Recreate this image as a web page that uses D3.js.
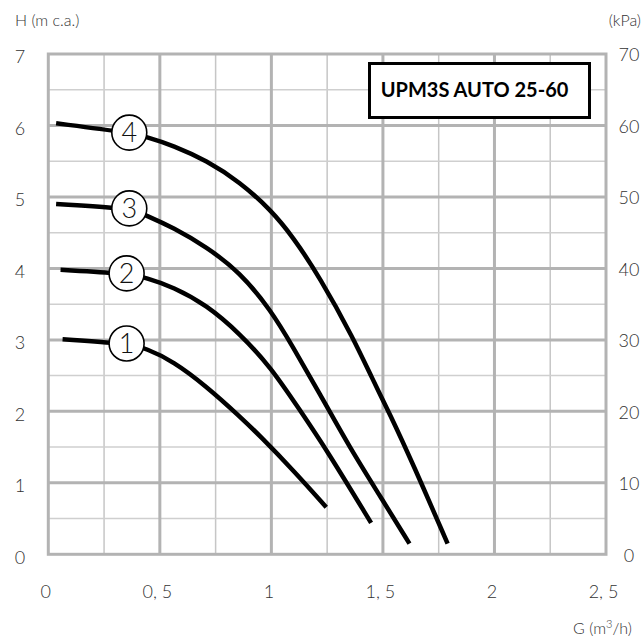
<!DOCTYPE html>
<html>
<head>
<meta charset="utf-8">
<script src="https://cdn.jsdelivr.net/npm/d3@7/dist/d3.min.js"></script>
<style>
  body { margin: 0; background: #fff; }
  svg { display: block; }
  text { font-family: Lato, "Open Sans", sans-serif; }
</style>
</head>
<body>
<svg id="chart" width="642" height="639"></svg>
<script>
// ---- data ----
const curveNames = ["1", "2", "3", "4"];
const flow1 = [0.064, 0.351, 0.44, 0.56, 0.709, 0.858, 0.948, 1.097, 1.246];
const head1 = [3.01, 2.95, 2.88, 2.70, 2.35, 1.93, 1.66, 1.18, 0.66];
const flow2 = [0.055, 0.351, 0.44, 0.56, 0.709, 0.858, 0.997, 1.127, 1.246, 1.447];
const head2 = [3.98, 3.93, 3.87, 3.74, 3.49, 3.09, 2.62, 2.02, 1.47, 0.44];
const flow3 = [0.035, 0.363, 0.44, 0.56, 0.709, 0.858, 0.997, 1.097, 1.216, 1.35, 1.48, 1.619];
const head3 = [4.90, 4.84, 4.74, 4.57, 4.30, 3.95, 3.42, 2.90, 2.25, 1.50, 0.85, 0.15];
const flow4 = [0.035, 0.363, 0.44, 0.56, 0.709, 0.858, 0.997, 1.097, 1.216, 1.365, 1.455, 1.53, 1.634, 1.79];
const head4 = [6.03, 5.90, 5.84, 5.72, 5.51, 5.21, 4.82, 4.44, 3.88, 3.04, 2.44, 1.97, 1.27, 0.15];
const labelFlow = [0.351, 0.351, 0.363, 0.363];
const labelHead = [2.95, 3.93, 4.84, 5.90];
const xTickValues = [0, 0.5, 1, 1.5, 2, 2.5];
const xTickLabels = ["0", "0, 5", "1", "1, 5", "2", "2, 5"];
const yTickValues = [0, 1, 2, 3, 4, 5, 6, 7];
const yTickLabels = ["0", "1", "2", "3", "4", "5", "6", "7"];
const kpaTickLabels = ["0", "10", "20", "30", "40", "50", "60", "70"];
const titleText = "UPM3S AUTO 25-60";

// ---- layout ----
const L = 48.3, R = 606, T = 54, B = 554.3;
const x = d3.scaleLinear().domain([0, 2.5]).range([L, R]);
const y = d3.scaleLinear().domain([0, 7]).range([B, T]);
const svg = d3.select("#chart");
const textColor = "#333333";

// grid
const minorX = d3.range(0.25, 2.5, 0.5);
const majorX = d3.range(0.5, 2.5, 0.5);
const minorY = d3.range(0.5, 7, 1);
const majorY = d3.range(1, 7, 1);
const g = svg.append("g");
g.selectAll(".mx").data(minorX).join("line")
  .attr("x1", d => x(d)).attr("x2", d => x(d)).attr("y1", T).attr("y2", B)
  .attr("stroke", "#c6c6c6").attr("stroke-width", 1.5);
g.selectAll(".my").data(minorY).join("line")
  .attr("y1", d => y(d)).attr("y2", d => y(d)).attr("x1", L).attr("x2", R)
  .attr("stroke", "#cfcfcf").attr("stroke-width", 1.5);
g.selectAll(".Mx").data(majorX).join("line")
  .attr("x1", d => x(d)).attr("x2", d => x(d)).attr("y1", T).attr("y2", B)
  .attr("stroke", "#b3b3b3").attr("stroke-width", 3);
g.selectAll(".My").data(majorY).join("line")
  .attr("y1", d => y(d)).attr("y2", d => y(d)).attr("x1", L).attr("x2", R)
  .attr("stroke", "#b3b3b3").attr("stroke-width", 3);
g.append("rect").attr("x", L).attr("y", T).attr("width", R - L).attr("height", B - T)
  .attr("fill", "none").attr("stroke", "#b3b3b3").attr("stroke-width", 3);

// axes (labels only)
const axisStyle = sel => {
  sel.attr("fill", textColor);
  sel.select(".domain").remove();
  sel.selectAll(".tick line").remove();
  sel.selectAll("text").attr("fill", textColor).style("font-size", "18px")
     .style("font-weight", 300).style("font-family", "Lato, sans-serif");
};
svg.append("g").attr("transform", `translate(-3,${B + 37})`)
  .call(d3.axisBottom(x).tickValues(xTickValues).tickSize(0).tickPadding(0)
        .tickFormat((d, i) => xTickLabels[i]))
  .call(axisStyle)
  .selectAll("text").attr("dy", "0.35em");
svg.append("g").attr("transform", `translate(20,3)`)
  .call(d3.axisLeft(y).tickValues(yTickValues).tickSize(0).tickPadding(0)
        .tickFormat((d, i) => yTickLabels[i]))
  .call(axisStyle)
  .selectAll("text").attr("text-anchor", "middle");
svg.append("g").attr("transform", `translate(629,1)`)
  .call(d3.axisRight(y).tickValues(yTickValues).tickSize(0).tickPadding(0)
        .tickFormat((d, i) => kpaTickLabels[i]))
  .call(axisStyle)
  .selectAll("text").attr("text-anchor", "middle");

// axis titles
svg.append("text").attr("x", 15).attr("y", 26).attr("fill", textColor)
  .style("font-size", "16px").style("font-weight", 300).text("H (m c.a.)");
svg.append("text").attr("x", 641).attr("y", 26).attr("text-anchor", "end").attr("fill", textColor)
  .style("font-size", "16px").style("font-weight", 300).text("(kPa)");
const gt = svg.append("text").attr("x", 632).attr("y", 634).attr("text-anchor", "end").attr("fill", textColor)
  .style("font-size", "16px").style("font-weight", 300);
gt.append("tspan").text("G (m");
gt.append("tspan").attr("dy", -6).style("font-size", "11px").text("3");
gt.append("tspan").attr("dy", 6).text("/h)");

// curves
const flows = [flow1, flow2, flow3, flow4];
const heads = [head1, head2, head3, head4];
const line = d3.line().x(d => x(d[0])).y(d => y(d[1])).curve(d3.curveBasis);
curveNames.forEach((n, i) => {
  const pts = flows[i].map((f, j) => [f, heads[i][j]]);
  svg.append("path").attr("d", line(pts)).attr("fill", "none")
    .attr("stroke", "#000").attr("stroke-width", 4.5).attr("stroke-linecap", "butt");
});
curveNames.forEach((n, i) => {
  const cx = x(labelFlow[i]), cy = y(labelHead[i]);
  svg.append("circle").attr("cx", cx).attr("cy", cy).attr("r", 17.5)
    .attr("fill", "#fff").attr("stroke", "#000").attr("stroke-width", 1.6);
  svg.append("text").attr("x", cx).attr("y", cy).attr("dy", "0.36em").attr("text-anchor", "middle")
    .attr("fill", "#111").style("font-size", "27px").style("font-weight", 300).text(n);
});

// title box
svg.append("rect").attr("x", 369.5).attr("y", 63.5).attr("width", 220).attr("height", 54)
  .attr("fill", "#fff").attr("stroke", "#000").attr("stroke-width", 3);
svg.append("text").attr("x", 474.5).attr("y", 97).attr("text-anchor", "middle")
  .attr("fill", "#000").style("font-size", "20px").style("font-weight", 700)
  .style("font-family", "Lato, sans-serif").text(titleText);
</script>
</body>
</html>
